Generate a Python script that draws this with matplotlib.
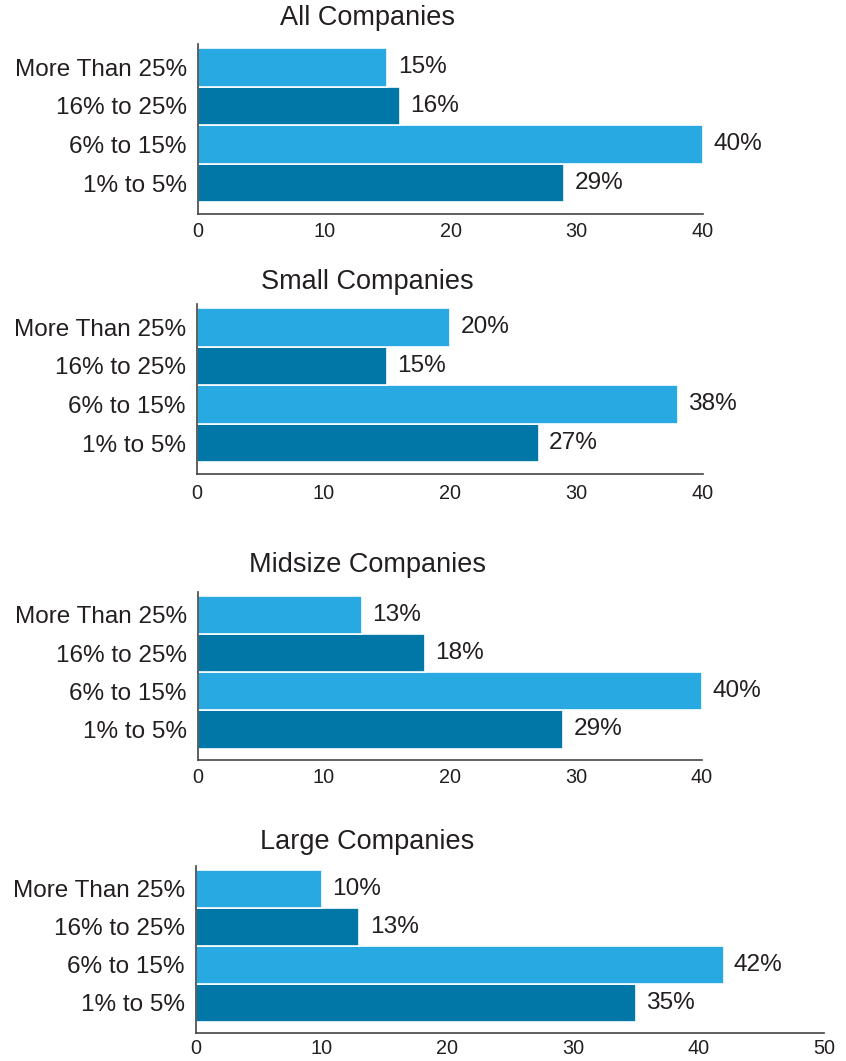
import matplotlib.pyplot as plt

plt.rcParams['font.family'] = ['Liberation Sans', 'DejaVu Sans']
plt.rcParams['text.color'] = '#231f20'

categories = ['1% to 5%', '6% to 15%', '16% to 25%', 'More Than 25%']

titles = ['All Companies', 'Small Companies', 'Midsize Companies', 'Large Companies']
all_companies = [29, 40, 16, 15]
small_companies = [27, 38, 15, 20]
midsize_companies = [29, 40, 18, 13]
large_companies = [35, 42, 13, 10]
values = [all_companies, small_companies, midsize_companies, large_companies]
xmax = [40, 40, 40, 50]

light_blue = '#29a9e1'
dark_blue = '#0077a6'
bar_colors = [dark_blue, light_blue, dark_blue, light_blue]

W, H = 846, 1061
fig = plt.figure(figsize=(W / 100, H / 100), dpi=100)

# panel boxes in pixels: left, right, top, bottom
boxes = [(198, 703, 44, 214),
         (197, 703, 304, 474),
         (198, 702, 592, 760),
         (196, 824, 866, 1033)]
title_y = [18, 282, 565, 842]
tick_pad = [6, 7, 6, 4]

for i, (title, vals) in enumerate(zip(titles, values)):
    l, r, t, b = boxes[i]
    ax = fig.add_axes([l / W, 1 - b / H, (r - l) / W, (b - t) / H])
    ypos = range(len(categories))
    ax.barh(ypos, vals, height=1.0, color=bar_colors,
            edgecolor='white', linewidth=1.2)
    for y, v in zip(ypos, vals):
        ax.annotate(f'{v}%', (v, y), xytext=(7.5, 0), textcoords='offset points',
                    va='center', ha='left', fontsize=17.6)
    ax.set_xlim(0, xmax[i])
    ax.set_ylim(-0.8, 3.6)
    ax.set_xticks(range(0, xmax[i] + 1, 10))
    ax.set_yticks(list(ypos))
    ax.set_yticklabels(categories, fontsize=17.5)
    ax.tick_params(axis='x', length=0, pad=tick_pad[i], labelsize=14.3,
                   labelcolor='#231f20')
    ax.tick_params(axis='y', length=0, pad=8, labelcolor='#231f20')
    for side in ['top', 'right']:
        ax.spines[side].set_visible(False)
    for side in ['left', 'bottom']:
        ax.spines[side].set_color('#444444')
        ax.spines[side].set_linewidth(1.2)
    fig.text(367 / W, 1 - title_y[i] / H, title, ha='center', va='center',
             fontsize=19.5)

fig.savefig('out.png', dpi=100)
